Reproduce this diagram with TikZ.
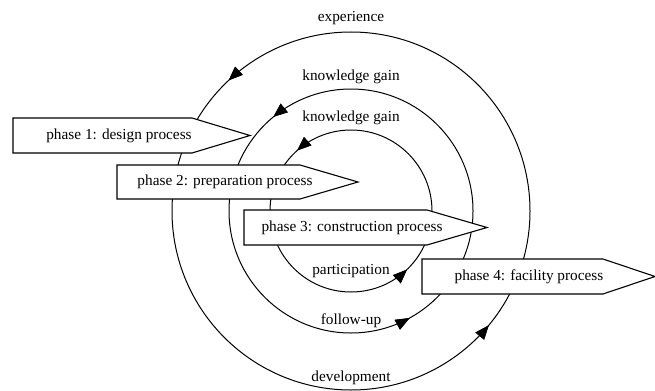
\documentclass[tikz,border=0pt]{standalone}
\usepackage{fontspec}
\setmainfont{Liberation Serif}
\usetikzlibrary{arrows.meta,decorations.markings}
\begin{document}
\begin{tikzpicture}[x=1bp,y=1bp,
  >={Triangle[length=14bp,width=11bp]},
  ring/.style={line width=1bp},
  phasebox/.style={draw, line width=1.1bp, fill=white, line join=miter},
  lbl/.style={font=\fontsize{15.3bp}{18bp}\selectfont, inner sep=0pt},
  ringarrow/.style={postaction={decorate}, decoration={markings,
    mark=at position #1 with {\arrow{>}}}}]
\useasboundingbox (0,0) rectangle (655,390);
\coordinate (c) at (351,179);
% rings
\draw[ring, ringarrow=0.3697, ringarrow=0.8897] (c) circle[radius=179];
\draw[ring, ringarrow=0.3597, ringarrow=0.8297] (c) circle[radius=122];
\draw[ring, ringarrow=0.3656, ringarrow=0.8714] (c) circle[radius=81];
% ring labels
\node[lbl] (lexp) at (351,372) {experience};
\node[lbl] (lkg1) at (351,313) {knowledge gain};
\node[lbl] (lkg2) at (351,272) {knowledge gain};
\node[lbl] (lpar) at (351,119) {participation};
\node[lbl] (lfol) at (351,69) {follow-up};
\node[lbl] (ldev) at (351,12) {development};
% phase boxes
\path[phasebox] (13,237) -- (192,237) -- (250,254.5) -- (192,272) -- (13,272) -- cycle;
\node[lbl] (p1) at (119,254.5) {phase 1: design process};
\path[phasebox] (117,191) -- (300,191) -- (358,208) -- (300,225) -- (117,225) -- cycle;
\node[lbl] (p2) at (225,208) {phase 2: preparation process};
\path[phasebox] (244,145) -- (427,145) -- (487,162.5) -- (427,180) -- (244,180) -- cycle;
\node[lbl] (p3) at (352,162.5) {phase 3: construction process};
\path[phasebox] (422,96) -- (603,96) -- (655,113.5) -- (603,131) -- (422,131) -- cycle;
\node[lbl] (p4) at (529,113.5) {phase 4: facility process};
\end{tikzpicture}
\end{document}
